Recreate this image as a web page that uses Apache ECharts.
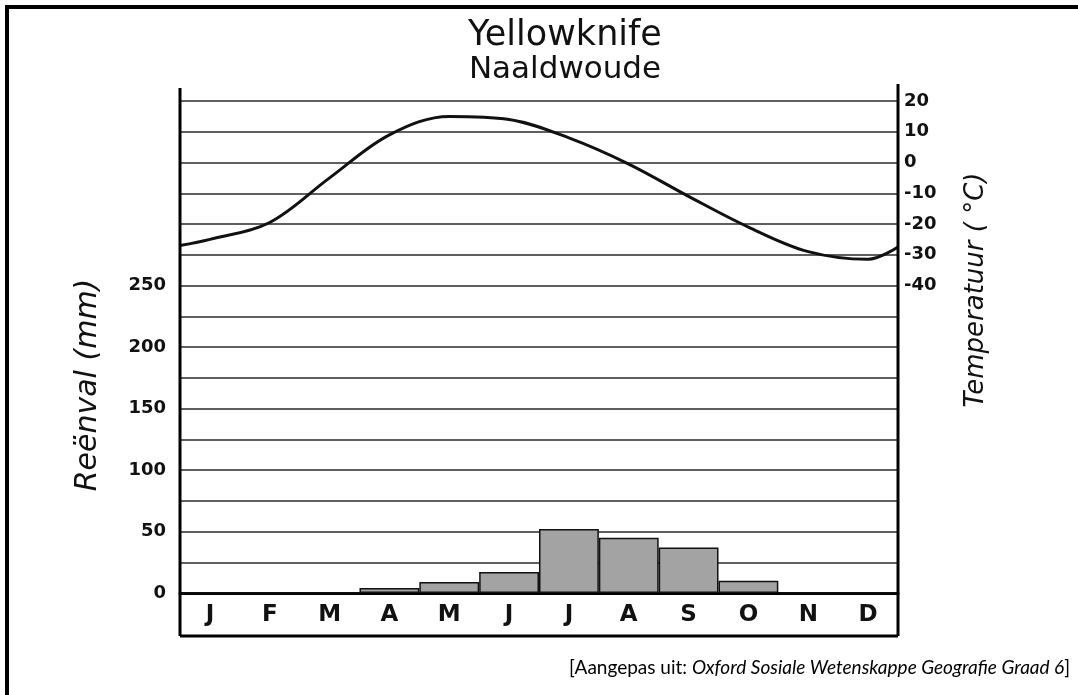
<!DOCTYPE html>
<html>
<head>
<meta charset="utf-8">
<script src="https://cdn.jsdelivr.net/npm/echarts@6/dist/echarts.min.js"></script>
<style>
html, body { margin: 0; padding: 0; background: #fff; }
#chart { width: 1078px; height: 695px; }
</style>
</head>
<body>
<div id="chart"></div>
<script>
// klimagrafiek data
var months = ['J', 'F', 'M', 'A', 'M', 'J', 'J', 'A', 'S', 'O', 'N', 'D'];
var rainfall = [0, 0, 0, 4, 9, 17, 52, 45, 37, 10, 0, 0];
// temperature curve: month positions (0 = left edge, 0.5 = middle of Jan ... 12 = right edge)
var tempPos = [0, 0.5, 1.5, 2.5, 3.5, 4.5, 5.5, 6.5, 7.5, 8.5, 9.5, 10.5, 11.5, 12];
var temps = [-27, -25, -19.5, -5, 9, 15, 14, 8, -0.5, -11, -21, -29, -31.5, -27.5];
var rainTicks = [0, 50, 100, 150, 200, 250];
var tempTicks = [-40, -30, -20, -10, 0, 10, 20];

var font = 'DejaVu Sans';
var chart = echarts.init(document.getElementById('chart'));

var lineData = [];
for (var i = 0; i < tempPos.length; i++) {
	lineData.push([tempPos[i], temps[i]]);
}

var option = {
	animation: false,
	backgroundColor: '#fff',
	title: [{
		text: 'Yellowknife',
		left: 560,
		top: 13,
		textAlign: 'center',
		textStyle: { fontFamily: font, fontSize: 35, fontWeight: 'normal', color: '#111' }
	}, {
		text: 'Naaldwoude',
		left: 560,
		top: 49,
		textAlign: 'center',
		textStyle: { fontFamily: font, fontSize: 31, fontWeight: 'normal', color: '#111' }
	}, {
		text: '[Aangepas uit: {i|Oxford Sosiale Wetenskappe Geografie Graad 6}]',
		right: 3,
		top: 653,
		textStyle: {
			fontFamily: 'Lato', fontSize: 19, fontWeight: 'normal', color: '#000',
			rich: {
				i: { fontFamily: 'Lato', fontSize: 19, fontStyle: 'italic', color: '#000' }
			}
		}
	}],
	grid: {
		left: 180,
		right: 180,
		top: 101,
		bottom: 102
	},
	xAxis: [{
		type: 'category',
		data: months,
		boundaryGap: true,
		axisLine: { show: true, lineStyle: { color: '#000', width: 3 } },
		axisTick: { show: false },
		axisLabel: {
			margin: 11,
			fontFamily: font,
			fontSize: 23,
			fontWeight: 'bold',
			color: '#111'
		},
		splitLine: { show: false }
	}, {
		type: 'value',
		min: 0,
		max: 12,
		show: false
	}],
	yAxis: [{
		type: 'value',
		position: 'left',
		min: 0,
		max: 400,
		interval: 25,
		axisLine: { show: false },
		axisTick: { show: false },
		axisLabel: {
			margin: 14,
			fontFamily: font,
			fontSize: 18,
			fontWeight: 'bold',
			color: '#111',
			formatter: function (v) {
				return rainTicks.indexOf(v) >= 0 ? String(v) : '';
			}
		},
		splitLine: { show: true, lineStyle: { color: '#2a2a2a', width: 1.6 } },
		name: 'Reënval (mm)',
		nameLocation: 'middle',
		nameGap: 77,
		nameRotate: 90,
		nameTextStyle: {
			fontFamily: font, fontSize: 30, fontStyle: 'italic', color: '#111',
			padding: [0, 76, 0, 0]
		}
	}, {
		type: 'value',
		position: 'right',
		min: -140,
		max: 20,
		interval: 10,
		axisLine: { show: false },
		axisTick: { show: false },
		axisLabel: {
			margin: 6,
			fontFamily: font,
			fontSize: 18,
			fontWeight: 'bold',
			color: '#111',
			formatter: function (v) {
				return tempTicks.indexOf(v) >= 0 ? String(v) : '';
			}
		},
		splitLine: { show: false },
		name: 'Temperatuur ( °C)',
		nameLocation: 'middle',
		nameGap: 65,
		nameRotate: 90,
		nameTextStyle: {
			fontFamily: font, fontSize: 26, fontStyle: 'italic', color: '#111',
			padding: [0, 0, 0, 114]
		}
	}],
	graphic: [{
		type: 'rect',
		shape: { x: 7, y: 7, width: 1100, height: 720 },
		style: { fill: 'none', stroke: '#000', lineWidth: 4 }
	}, {
		type: 'line',
		shape: { x1: 180, y1: 88, x2: 180, y2: 636 },
		style: { stroke: '#000', lineWidth: 3 },
		z: 10
	}, {
		type: 'line',
		shape: { x1: 898, y1: 84, x2: 898, y2: 636 },
		style: { stroke: '#000', lineWidth: 3 },
		z: 10
	}, {
		type: 'line',
		shape: { x1: 180, y1: 636, x2: 898, y2: 636 },
		style: { stroke: '#000', lineWidth: 3 },
		z: 10
	}],
	series: [{
		name: 'Reënval',
		type: 'bar',
		xAxisIndex: 0,
		yAxisIndex: 0,
		data: rainfall,
		barCategoryGap: '0%',
		itemStyle: { color: '#a3a3a3', borderColor: '#111', borderWidth: 1.5 }
	}, {
		name: 'Temperatuur',
		type: 'line',
		xAxisIndex: 1,
		yAxisIndex: 1,
		data: lineData,
		smooth: 0.35,
		showSymbol: false,
		lineStyle: { color: '#111', width: 3 }
	}]
};
chart.setOption(option);
</script>
</body>
</html>
